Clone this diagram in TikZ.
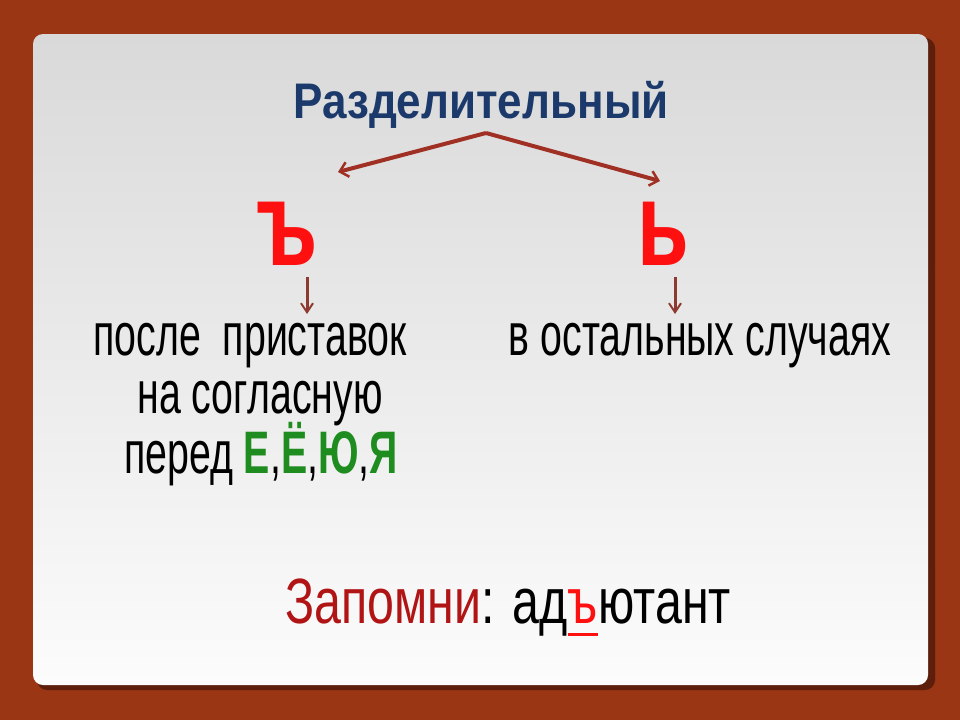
\documentclass[tikz,border=0pt]{standalone}
\usepackage{fontspec}
\setmainfont{Liberation Sans}
\newfontfamily\nar[FakeStretch=0.655]{Liberation Sans}
\newfontfamily\bnar[FakeStretch=0.755]{Liberation Sans}
\newfontfamily\lnar[FakeStretch=0.7]{Liberation Sans}
\newfontfamily\tnar[FakeStretch=0.88]{Liberation Sans}
\usetikzlibrary{arrows.meta}
\definecolor{bgred}{HTML}{9A3614}
\definecolor{shadowc}{HTML}{5E1E0C}
\definecolor{paneltop}{HTML}{D9D9D9}
\definecolor{panelbot}{HTML}{FCFCFD}
\definecolor{navy}{HTML}{1B3A6B}
\definecolor{arrowred}{HTML}{A03024}
\definecolor{smallarrow}{HTML}{8E3A30}
\definecolor{letterred}{HTML}{FF1010}
\definecolor{vgreen}{HTML}{1E8C1E}
\definecolor{wred}{HTML}{B01414}
\begin{document}
\begin{tikzpicture}[x=1pt,y=-1pt,
  titlestyle/.style={anchor=base, inner sep=0pt, text=navy, font=\tnar\bfseries\fontsize{50}{52}\selectfont},
  bigletter/.style={anchor=base, inner sep=0pt, text=letterred, font=\lnar\bfseries\fontsize{120}{120}\selectfont},
  txt/.style={anchor=base, inner sep=0pt, font=\nar\fontsize{60}{62}\selectfont},
  btxt/.style={anchor=base west, inner sep=0pt, font=\bnar\fontsize{64}{66}\selectfont},
  bigarrow/.style={draw=arrowred, line width=4pt, -{Straight Barb[length=8pt, width=15pt, line width=2.5pt]}},
  downarrow/.style={draw=smallarrow, line width=3pt, -{Straight Barb[length=9pt, width=12pt, line width=2pt]}}]
\useasboundingbox (0,0) rectangle (960,720);
\fill[bgred] (0,0) rectangle (960,720);
\fill[shadowc, rounded corners=10pt] (37,38) rectangle (935,690);
\shade[top color=paneltop, bottom color=panelbot, rounded corners=10pt] (33,34) rectangle (928,685);

\node[titlestyle] (title) at (481,118) {Разделительный};
\coordinate (apex) at (486,133);
\coordinate (lend) at (338,172);
\coordinate (rend) at (660,181);
\draw[bigarrow] (apex) -- (lend);
\draw[bigarrow] (apex) -- (rend);

\node[bigletter] (hard) at (287,265) {ъ};
\node[bigletter] (soft) at (663,265) {ь};

\coordinate (ha1) at (307,277);
\coordinate (ha2) at (307,314);
\coordinate (sa1) at (675,277);
\coordinate (sa2) at (675,314);
\draw[downarrow] (ha1) -- (ha2);
\draw[downarrow] (sa1) -- (sa2);

\node[txt] (l1) at (250,355) {после\ \ приставок};
\node[txt] (l2) at (260,413) {на согласную};
\node[txt] (l3) at (261,473) {перед \textcolor{vgreen}{\bfseries Е},\textcolor{vgreen}{\bfseries Ё},\textcolor{vgreen}{\bfseries Ю},\textcolor{vgreen}{\bfseries Я}};
\node[txt] (r1) at (700,355) {в остальных случаях};

\node[btxt] (rem1) at (285,623) {\textcolor{wred}{Запомни}: ад};
\node[btxt, text=letterred, anchor=base west] (rem2) at (rem1.base east) {ъ};
\node[btxt, anchor=base west] (rem3) at (rem2.base east) {ютант};
\draw[letterred, line width=3pt] ([yshift=-11pt]rem2.base west) -- ([yshift=-11pt]rem2.base east);
\end{tikzpicture}
\end{document}
